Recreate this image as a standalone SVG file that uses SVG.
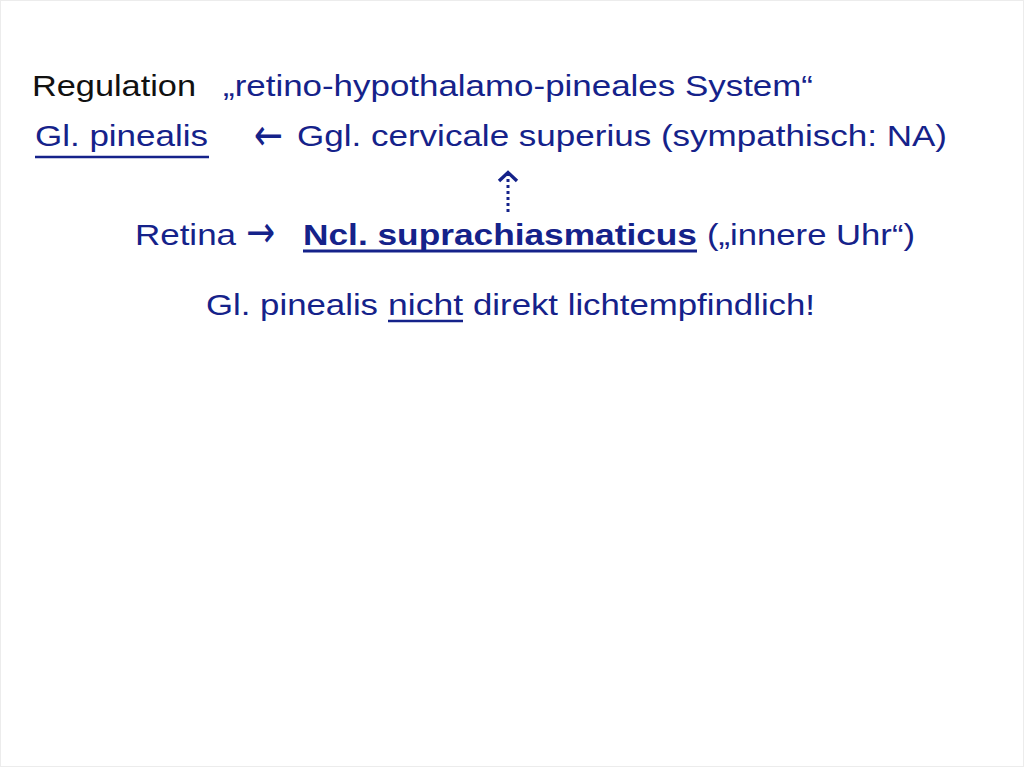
<svg xmlns="http://www.w3.org/2000/svg" width="1024" height="767" viewBox="0 0 1024 767">
<defs>
<style>
text{font-family:"Liberation Sans",Arial,sans-serif;font-size:30px;fill:#15228a}
.blk{fill:#111111}
.b{font-weight:bold}
.arr{font-family:"DejaVu Sans",sans-serif;font-size:44px}
.ul{stroke:#15228a;stroke-width:2.5}
</style>
<marker id="ah" viewBox="0 0 14 22" refX="12" refY="11" markerWidth="14" markerHeight="22" markerUnits="userSpaceOnUse" orient="auto">
<path d="M3,2 L11.5,11 L3,20" fill="none" stroke="#15228a" stroke-width="3.4"/>
</marker>
</defs>
<rect x="0.5" y="0.5" width="1023" height="766" fill="#ffffff" stroke="#ececec"/>
<g id="title">
<text class="blk" x="32" y="96" textLength="164" lengthAdjust="spacingAndGlyphs">Regulation</text>
<text x="223" y="96" textLength="590" lengthAdjust="spacingAndGlyphs">„retino-hypothalamo-pineales System“</text>
</g>
<g id="gl-pinealis">
<text x="35" y="146" textLength="173" lengthAdjust="spacingAndGlyphs">Gl. pinealis</text>
<line class="ul" x1="35" y1="157" x2="209" y2="157"/>
</g>
<g id="ggl-cervicale">
<text class="arr" x="254" y="150" textLength="29" lengthAdjust="spacingAndGlyphs">←</text>
<text x="297" y="146" textLength="650" lengthAdjust="spacingAndGlyphs">Ggl. cervicale superius (sympathisch: NA)</text>
</g>
<g id="retina">
<text x="135" y="245" textLength="101" lengthAdjust="spacingAndGlyphs">Retina</text>
<text class="arr" x="246" y="247" textLength="29" lengthAdjust="spacingAndGlyphs">→</text>
</g>
<g id="ncl-suprachiasmaticus">
<text class="b" x="303" y="245" textLength="394" lengthAdjust="spacingAndGlyphs">Ncl. suprachiasmaticus</text>
<line x1="303" y1="251" x2="697" y2="251" stroke="#15228a" stroke-width="3"/>
<text x="707" y="245" textLength="208" lengthAdjust="spacingAndGlyphs">(„innere Uhr“)</text>
</g>
<g id="note">
<text x="206" y="315" textLength="172" lengthAdjust="spacingAndGlyphs">Gl. pinealis</text>
<text x="388" y="315" textLength="75" lengthAdjust="spacingAndGlyphs">nicht</text>
<line class="ul" x1="388" y1="321" x2="463" y2="321"/>
<text x="473" y="315" textLength="342" lengthAdjust="spacingAndGlyphs">direkt lichtempfindlich!</text>
</g>
<g id="connectors">
<line x1="508" y1="212" x2="508" y2="172" stroke="#15228a" stroke-width="3" stroke-dasharray="3,3" marker-end="url(#ah)"/>
</g>
</svg>
